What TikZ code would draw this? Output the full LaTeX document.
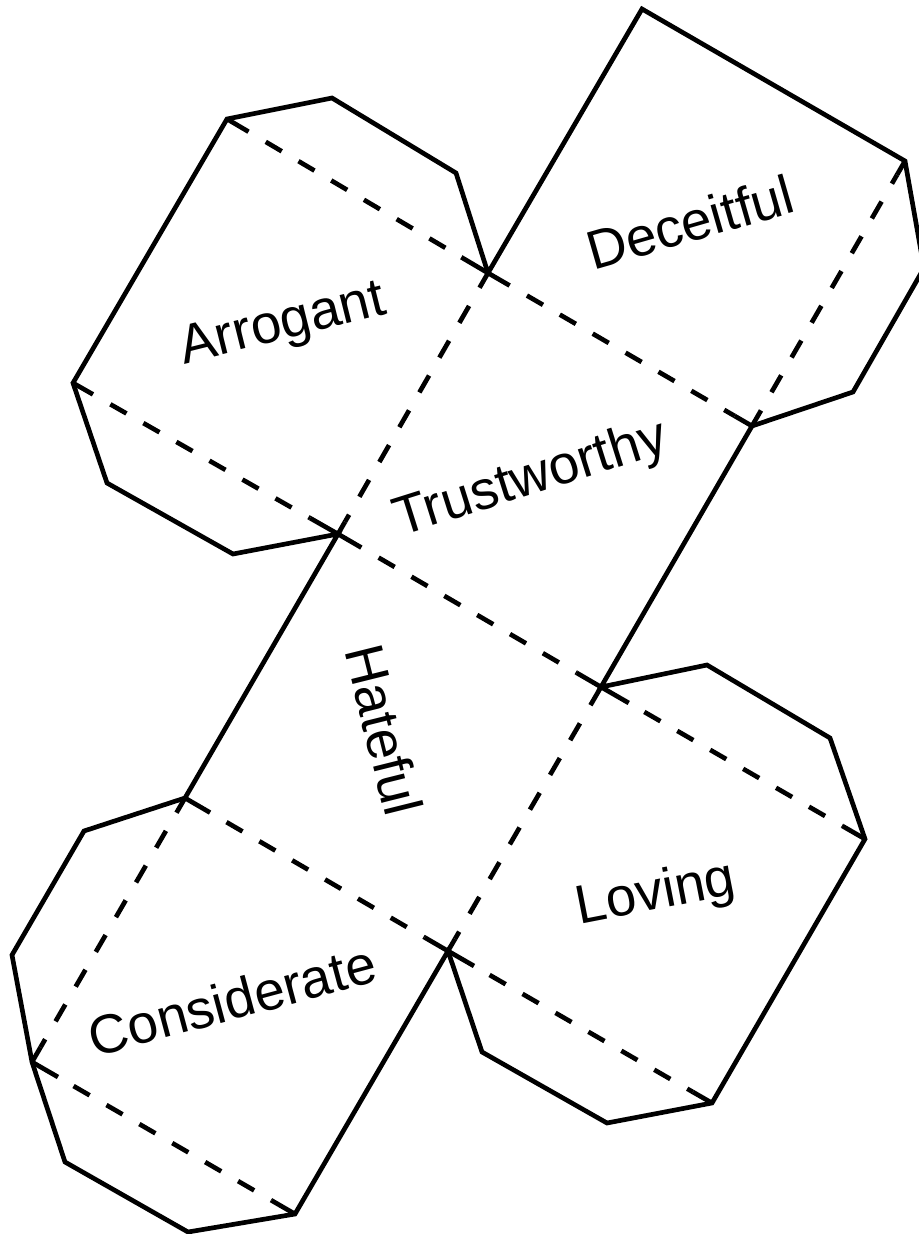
\documentclass[tikz,border=0pt]{standalone}
\usepackage{fontspec}
\setmainfont{Liberation Sans}
\usetikzlibrary{calc}
\tikzset{
  edge/.style={line width=3.5pt,line join=miter,black},
  tick/.style={line width=3.5pt,black},
  foldh/.style={line width=3.5pt,black,dash pattern=on 13.9pt off 14.6pt},
  foldd/.style={line width=3.5pt,black,dash pattern=on 14.6pt off 15.5pt},
  lbl/.style={font=\fontsize{41}{41}\selectfont,inner sep=0pt,text=black}
}
% start, end, start tick, first dash offset, end tick, style (all in px)
\newcommand{\foldline}[6]{%
  \draw[tick] (#1) -- ($(#1)!#3*0.75pt!(#2)$);
  \draw[tick] (#2) -- ($(#2)!#5*0.75pt!(#1)$);
  \draw[#6] ($(#1)!#4*0.75pt!(#2)$) -- ($(#2)!#5*0.75pt!(#1)$);
}
\begin{document}
\begin{tikzpicture}[x=0.75pt,y=-0.75pt]
\useasboundingbox (0,0) rectangle (919,1234);
\clip (0,0) rectangle (919,1234);
\coordinate (A) at (488,273);
\coordinate (B) at (752,426);
\coordinate (C) at (338,534);
\coordinate (D) at (601,687);
\coordinate (E) at (185,798);
\coordinate (F) at (448,951);
\coordinate (G) at (642,9);
\coordinate (H) at (905,161);
\coordinate (I) at (227,119);
\coordinate (J) at (73,383);
\coordinate (K) at (865,839);
\coordinate (L) at (712,1103);
\coordinate (M) at (32,1062);
\coordinate (N) at (295,1214);
% solid outline
\draw[edge] (A) -- (G) -- (H) -- (924,268) -- (853,392) -- (B) -- (D) -- (707,665) -- (830,738) -- (K) -- (L) -- (607,1123) -- (482,1052) -- (F) -- (N) -- (188,1232) -- (65,1162) -- (M) -- (12,955) -- (84,831) -- (E) -- (C) -- (233,554) -- (107,483) -- (J) -- (I) -- (332,98) -- (456,173) -- (A);
% folds
\foldline{I}{A}{25}{45}{31}{foldh}
\foldline{A}{B}{25}{45}{20}{foldh}
\foldline{J}{C}{23}{43}{32}{foldh}
\foldline{C}{D}{27}{47}{28}{foldh}
\foldline{D}{K}{32}{50}{26}{foldh}
\foldline{E}{F}{29}{48}{27}{foldh}
\foldline{F}{L}{30}{48}{22}{foldh}
\foldline{M}{N}{30}{48}{27}{foldh}
\foldline{A}{C}{17}{38}{14}{foldd}
\foldline{D}{F}{21}{42}{14}{foldd}
\foldline{B}{H}{18}{39}{16}{foldd}
\foldline{E}{M}{17}{38}{17}{foldd}
% labels
\node[lbl,rotate=16] (deceitful) at (690,222) {Deceitful};
\node[lbl,rotate=14] (arrogant) at (283,326) {Arrogant};
\node[lbl,rotate=17.5] (trust) at (531,480) {Trustworthy};
\node[lbl,rotate=-76] (hateful) at (384,730) {Hateful};
\node[lbl,rotate=11] (loving) at (656,895) {Loving};
\node[lbl,rotate=15] (consid) at (232,1000) {Considerate};
\end{tikzpicture}
\end{document}
